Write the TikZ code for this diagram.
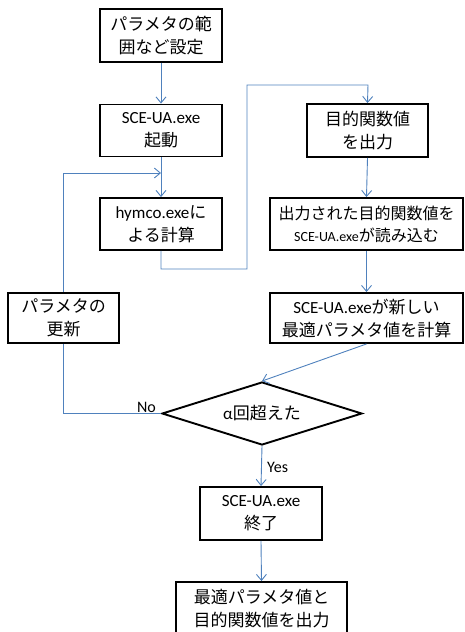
\documentclass[tikz,border=0pt]{standalone}
\usepackage{fontspec}
\setmainfont{Carlito}
\newfontfamily\jp{Noto Sans CJK JP}
\usetikzlibrary{arrows.meta,shapes.geometric}
\definecolor{flowblue}{HTML}{4F81BD}
\tikzset{
  stepbox/.style={draw=black, line width=1.9pt, fill=white, rectangle, inner sep=0pt, align=center,
    font=\fontsize{17}{23}\selectfont},
  decision/.style={draw=black, line width=1.9pt, fill=white, diamond, inner sep=0pt, align=center,
    font=\fontsize{17}{23}\selectfont},
  flow/.style={draw=flowblue, line width=0.9pt, -{Straight Barb[length=6pt,width=10pt]}},
  flowline/.style={draw=flowblue, line width=0.9pt},
  lbl/.style={font=\fontsize{16}{18}\selectfont, inner sep=0pt}
}
\begin{document}
\begin{tikzpicture}[x=1pt,y=-1pt]
\useasboundingbox (0,0) rectangle (465,632);
\clip (0,0) rectangle (465,632);
\node[stepbox, minimum width=122pt, minimum height=53pt] (b1) at (161,35.5) {{\jp パラメタの範}\\{\jp 囲など設定}};
\node[stepbox, minimum width=122pt, minimum height=52pt] (b2) at (161,130.5) {SCE-UA.exe\\{\jp 起動}};
\node[stepbox, minimum width=122pt, minimum height=52pt] (b3) at (161,224) {hymco.exe{\jp に}\\{\jp よる計算}};
\node[stepbox, minimum width=121pt, minimum height=53pt] (b4) at (367.5,130.5) {{\jp 目的関数値}\\{\jp を出力}};
\node[stepbox, minimum width=193pt, minimum height=52pt, font=\fontsize{16}{22}\selectfont] (b5) at (366.5,224) {{\jp 出力された目的関数値を}\\{\fontsize{14}{22}\selectfont SCE-UA.exe}{\jp が読み込む}};
\node[stepbox, minimum width=193pt, minimum height=50pt] (b6) at (366.5,318) {SCE-UA.exe{\jp が新しい}\\{\jp 最適パラメタ値を計算}};
\node[stepbox, minimum width=111pt, minimum height=50pt] (b7) at (63.5,318) {{\jp パラメタの}\\{\jp 更新}};
\node[decision, minimum width=200pt, minimum height=63pt, aspect=3.17] (d) at (262,413.5) {α{\jp 回超えた}};
\node[stepbox, minimum width=122pt, minimum height=53pt] (b8) at (261,513.5) {SCE-UA.exe\\{\jp 終了}};
\node[stepbox, minimum width=171pt, minimum height=53pt] (b9) at (261.5,608.5) {{\jp 最適パラメタ値と}\\{\jp 目的関数値を出力}};
\coordinate (j1) at (161,173);
\coordinate (c1) at (247,269);
\coordinate (c2) at (368,85);
\draw[flow] (b1.south) -- (b2.north);
\draw[flow] (b2.south) -- (b3.north);
\draw[flow] (b7.north) |- (j1);
\draw[flow] (b3.south) |- (c1) |- (c2) -- (b4.north);
\draw[flow] (b4.south) -- (b5.north);
\draw[flow] (b5.south) -- (b6.north);
\draw[flow] (b6.south) -- (d.north);
\draw[flowline] (d.west) -| (b7.south);
\draw[flow] (d.south) -- (b8.north);
\draw[flow] (b8.south) -- (b9.north);
\node[lbl, anchor=south east] (no) at (156,413) {No};
\node[lbl, anchor=west] (yes) at (267,467) {Yes};
\end{tikzpicture}
\end{document}
